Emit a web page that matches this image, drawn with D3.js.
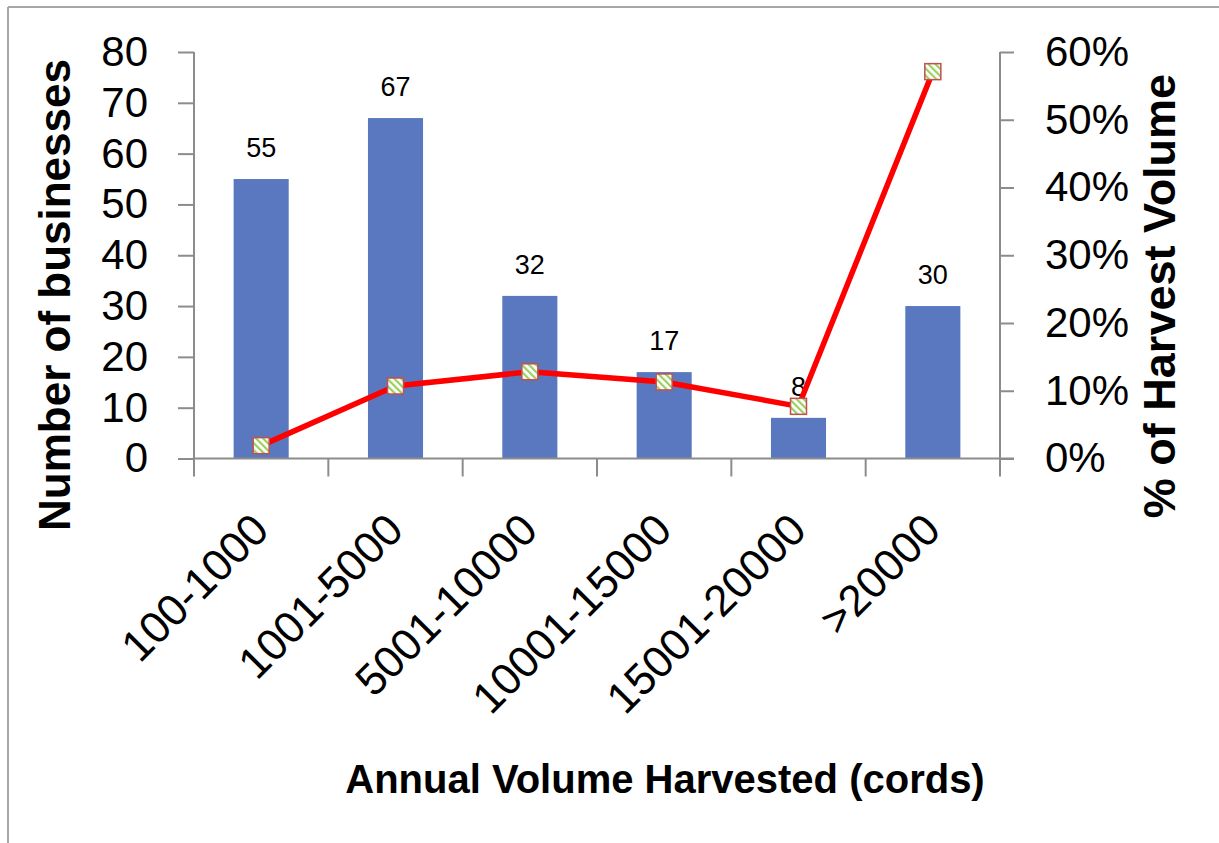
<!DOCTYPE html>
<html>
<head>
<meta charset="utf-8">
<script src="https://cdn.jsdelivr.net/npm/d3@7"></script>
<style>
  html, body { margin: 0; padding: 0; background: #fff; }
  svg { display: block; }
  text { font-family: "Liberation Sans", Arial, sans-serif; fill: #000; }
</style>
</head>
<body>
<svg id="chart" width="1219" height="843"></svg>
<script>
const categories = ["100-1000", "1001-5000", "5001-10000", "10001-15000", "15001-20000", ">20000"];
const businesses = [55, 67, 32, 17, 8, 30];
const harvestPct = [0.019, 0.107, 0.128, 0.113, 0.077, 0.571];
const leftTicks = [0, 10, 20, 30, 40, 50, 60, 70, 80];
const rightTicks = [0, 0.1, 0.2, 0.3, 0.4, 0.5, 0.6];

const svg = d3.select("#chart");

// chart border (top and left visible)
svg.append("line").attr("x1", 8).attr("x2", 1219).attr("y1", 7).attr("y2", 7)
  .attr("stroke", "#a6a6a6").attr("stroke-width", 2);
svg.append("line").attr("x1", 8).attr("x2", 8).attr("y1", 7).attr("y2", 843)
  .attr("stroke", "#a6a6a6").attr("stroke-width", 2);

const plot = { left: 194, right: 1000, top: 52, bottom: 458.5 };

const x = d3.scaleBand().domain(categories).range([plot.left, plot.right]).padding(0);
const yL = d3.scaleLinear().domain([0, 80]).range([plot.bottom, plot.top]);
const yR = d3.scaleLinear().domain([0, 0.6]).range([plot.bottom, plot.top]);

// pattern for markers
const defs = svg.append("defs");
const pat = defs.append("pattern").attr("id", "hatch")
  .attr("patternUnits", "userSpaceOnUse").attr("width", 5).attr("height", 5)
  .attr("patternTransform", "rotate(-45)");
pat.append("rect").attr("width", 5).attr("height", 5).attr("fill", "#ffffff");
pat.append("rect").attr("x", 0).attr("width", 2.2).attr("height", 5).attr("fill", "#9bcf5f");

// bars
const barFrac = 0.41;
svg.append("g").selectAll("rect").data(categories).join("rect")
  .attr("x", d => x(d) + x.bandwidth() * (1 - barFrac) / 2)
  .attr("width", x.bandwidth() * barFrac)
  .attr("y", (d, i) => yL(businesses[i]))
  .attr("height", (d, i) => yL(0) - yL(businesses[i]))
  .attr("fill", "#5a78c0");

// data labels
svg.append("g").selectAll("text").data(categories).join("text")
  .attr("x", d => x(d) + x.bandwidth() / 2)
  .attr("y", (d, i) => yL(businesses[i]) - 22)
  .attr("text-anchor", "middle")
  .attr("font-size", 27)
  .text((d, i) => businesses[i]);

// axes
const axisColor = "#8c8c8c";
const gL = svg.append("g").attr("transform", `translate(${plot.left},0)`)
  .call(d3.axisLeft(yL).tickValues(leftTicks).tickSize(16).tickPadding(30).tickFormat(d3.format("d")));
const gR = svg.append("g").attr("transform", `translate(${plot.right},0)`)
  .call(d3.axisRight(yR).tickValues(rightTicks).tickSize(14).tickPadding(31).tickFormat(d3.format(".0%")));
const gB = svg.append("g").attr("transform", `translate(0,${plot.bottom})`)
  .call(d3.axisBottom(x).tickValues([]).tickSizeOuter(0));

[gL, gR].forEach(g => {
  g.select(".domain").attr("stroke", axisColor).attr("stroke-width", 2)
    .attr("d", `M0,${plot.bottom}V${plot.top}`);
  g.selectAll(".tick line").attr("stroke", axisColor).attr("stroke-width", 2);
  g.selectAll(".tick text").attr("font-size", 42).attr("fill", "#000")
    .attr("font-family", "'Liberation Sans', Arial, sans-serif");
});
gB.select(".domain").attr("stroke", axisColor).attr("stroke-width", 2)
  .attr("d", `M${plot.left},0H${plot.right + 14}`);

// category boundary ticks
const boundaries = categories.map(c => x(c)).concat([plot.right]);
svg.append("g").selectAll("line").data(boundaries).join("line")
  .attr("x1", d => d).attr("x2", d => d)
  .attr("y1", plot.bottom).attr("y2", plot.bottom + 18)
  .attr("stroke", axisColor).attr("stroke-width", 2);

// category labels rotated
svg.append("g").selectAll("text").data(categories).join("text")
  .attr("transform", d => `translate(${x(d) + x.bandwidth() / 2 + 10},${plot.bottom + 74}) rotate(-45)`)
  .attr("text-anchor", "end")
  .attr("font-size", 44)
  .text(d => d);

// line series
const line = d3.line()
  .x((d, i) => x(categories[i]) + x.bandwidth() / 2)
  .y(d => yR(d));
svg.append("path").datum(harvestPct).attr("d", line)
  .attr("fill", "none").attr("stroke", "#ff0000").attr("stroke-width", 5.5)
  .attr("stroke-linejoin", "round");

const ms = 16;
svg.append("g").selectAll("rect").data(harvestPct).join("rect")
  .attr("x", (d, i) => x(categories[i]) + x.bandwidth() / 2 - ms / 2)
  .attr("y", d => yR(d) - ms / 2)
  .attr("width", ms).attr("height", ms)
  .attr("fill", "url(#hatch)")
  .attr("stroke", "#c0504d").attr("stroke-width", 1.5);

// axis titles
svg.append("text")
  .attr("transform", `translate(70,295) rotate(-90)`)
  .attr("text-anchor", "middle").attr("font-size", 44).attr("font-weight", "bold")
  .text("Number of businesses");
svg.append("text")
  .attr("transform", `translate(1175,296) rotate(-90)`)
  .attr("text-anchor", "middle").attr("font-size", 45).attr("font-weight", "bold")
  .text("% of Harvest Volume");
svg.append("text")
  .attr("x", 665).attr("y", 793)
  .attr("text-anchor", "middle").attr("font-size", 40).attr("font-weight", "bold")
  .text("Annual Volume Harvested (cords)");
</script>
</body>
</html>
